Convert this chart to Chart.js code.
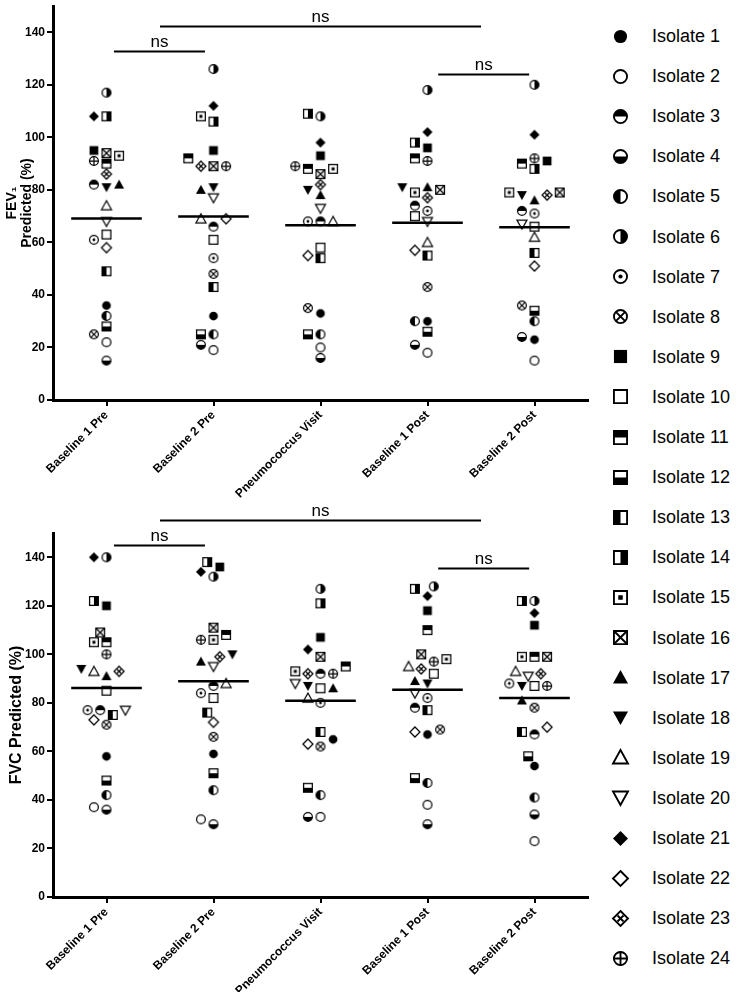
<!DOCTYPE html>
<html>
<head>
<meta charset="utf-8">
<title>FEV1 and FVC by isolate</title>
<script src="https://cdn.jsdelivr.net/npm/chart.js@4.4.1/dist/chart.umd.min.js"></script>
<style>
    html, body { margin: 0; padding: 0; background: #fff; }
    #page { position: relative; width: 742px; height: 992px; overflow: hidden; }
    #page > canvas { position: absolute; left: 0; }
    #fev1Chart { top: 0; }
    #fvcChart { top: 492px; }
    #legend canvas { position: absolute; }
    #legend .lbl { position: absolute; left: 652px; font: 18px Arial, "Liberation Sans", sans-serif; line-height: 22px; color: #000; white-space: nowrap; }
</style>
</head>
<body>
<div id="page">
    <canvas id="fev1Chart" width="600" height="500"></canvas>
    <canvas id="fvcChart" width="600" height="500"></canvas>
    <div id="legend"></div>
</div>
<script>
const categories = ['Baseline 1 Pre', 'Baseline 2 Pre', 'Pneumococcus Visit', 'Baseline 1 Post', 'Baseline 2 Post'];
const isolates = ['Isolate 1', 'Isolate 2', 'Isolate 3', 'Isolate 4', 'Isolate 5', 'Isolate 6', 'Isolate 7', 'Isolate 8',
    'Isolate 9', 'Isolate 10', 'Isolate 11', 'Isolate 12', 'Isolate 13', 'Isolate 14', 'Isolate 15', 'Isolate 16',
    'Isolate 17', 'Isolate 18', 'Isolate 19', 'Isolate 20', 'Isolate 21', 'Isolate 22', 'Isolate 23', 'Isolate 24'];
const yTicks = [0, 20, 40, 60, 80, 100, 120, 140];

// FEV1 % predicted, one value per isolate (Isolate 1 .. 24)
const fev1Baseline1Pre  = [36, 22, 82, 15, 32, 117, 61, 25, 95, 63, 90, 28, 49, 108, 93, 94, 82, 81, 74, 68, 108, 58, 86, 91];
const fev1Baseline2Pre  = [32, 19, 66, 21, 25, 126, 54, 48, 95, 61, 92, 25, 43, 106, 108, 89, 80, 81, 69, 77, 112, 69, 89, 89];
const fev1Pneumococcus  = [33, 20, 68, 16, 25, 108, 68, 35, 93, 58, 88, 25, 54, 109, 88, 86, 78, 80, 68, 73, 98, 55, 82, 89];
const fev1Baseline1Post = [30, 18, 74, 21, 30, 118, 72, 43, 96, 70, 92, 26, 55, 98, 79, 80, 81, 81, 60, 68, 102, 57, 77, 91];
const fev1Baseline2Post = [23, 15, 72, 24, 30, 120, 71, 36, 91, 66, 90, 34, 56, 88, 79, 79, 76, 78, 62, 67, 101, 51, 78, 92];

// FVC % predicted
const fvcBaseline1Pre  = [58, 37, 77, 36, 42, 140, 77, 71, 120, 85, 105, 48, 75, 122, 105, 109, 91, 94, 93, 77, 140, 73, 93, 100];
const fvcBaseline2Pre  = [59, 32, 87, 30, 44, 132, 84, 66, 136, 82, 108, 51, 76, 138, 106, 111, 97, 100, 88, 95, 134, 72, 99, 106];
const fvcPneumococcus  = [65, 33, 92, 33, 42, 127, 80, 62, 107, 86, 95, 45, 68, 121, 93, 99, 86, 87, 82, 88, 102, 63, 92, 92];
const fvcBaseline1Post = [67, 38, 78, 30, 47, 128, 82, 69, 118, 92, 110, 49, 77, 127, 98, 100, 89, 88, 95, 84, 124, 68, 94, 97];
const fvcBaseline2Post = [54, 23, 67, 34, 41, 122, 88, 78, 112, 87, 99, 58, 68, 122, 99, 99, 81, 87, 93, 91, 117, 70, 92, 87];

const fev1ByVisit = [fev1Baseline1Pre, fev1Baseline2Pre, fev1Pneumococcus, fev1Baseline1Post, fev1Baseline2Post];
const fvcByVisit = [fvcBaseline1Pre, fvcBaseline2Pre, fvcPneumococcus, fvcBaseline1Post, fvcBaseline2Post];

const FONT = 'Arial, "Liberation Sans", Helvetica, sans-serif';
Chart.defaults.font.family = FONT;
Chart.defaults.color = '#000';

// draws one of the 24 prism-style symbols on a small canvas
function makeMarker(kind, size) {
    const full = Math.ceil(size + 4);
    const c = document.createElement('canvas');
    c.width = c.height = full;
    const g = c.getContext('2d');
    const m = full / 2, r = size / 2, lw = Math.max(1.2, size / 8);
    g.lineWidth = lw;
    g.strokeStyle = '#000';
    g.fillStyle = '#000';

    const circle = () => { g.beginPath(); g.arc(m, m, r - lw / 2, 0, Math.PI * 2); };
    const square = () => { g.beginPath(); g.rect(m - r + lw / 2, m - r + lw / 2, size - lw, size - lw); };
    const diamond = () => {
        g.beginPath(); g.moveTo(m, m - r); g.lineTo(m + r, m); g.lineTo(m, m + r); g.lineTo(m - r, m); g.closePath();
    };
    const triangle = (up) => {
        const s = up ? 1 : -1;
        g.beginPath();
        g.moveTo(m, m - s * r);
        g.lineTo(m + r, m + s * r * 0.8);
        g.lineTo(m - r, m + s * r * 0.8);
        g.closePath();
    };
    const half = (shape, side) => {
        g.save(); shape(); g.clip();
        if (side === 'top') g.fillRect(0, 0, full, m);
        if (side === 'bottom') g.fillRect(0, m, full, full - m);
        if (side === 'left') g.fillRect(0, 0, m, full);
        if (side === 'right') g.fillRect(m, 0, full - m, full);
        g.restore();
        shape(); g.stroke();
    };
    const cross = (k) => {
        g.beginPath();
        g.moveTo(m - k, m - k); g.lineTo(m + k, m + k);
        g.moveTo(m + k, m - k); g.lineTo(m - k, m + k);
        g.stroke();
    };
    const plus = (k) => {
        g.beginPath();
        g.moveTo(m - k, m); g.lineTo(m + k, m);
        g.moveTo(m, m - k); g.lineTo(m, m + k);
        g.stroke();
    };

    switch (kind) {
        case 0: circle(); g.fill(); break;
        case 1: circle(); g.stroke(); break;
        case 2: half(circle, 'top'); break;
        case 3: half(circle, 'bottom'); break;
        case 4: half(circle, 'left'); break;
        case 5: half(circle, 'right'); break;
        case 6: circle(); g.stroke(); g.beginPath(); g.arc(m, m, r * 0.28, 0, Math.PI * 2); g.fill(); break;
        case 7: circle(); g.stroke(); cross(r * 0.62); break;
        case 8: square(); g.fill(); break;
        case 9: square(); g.stroke(); break;
        case 10: half(square, 'top'); break;
        case 11: half(square, 'bottom'); break;
        case 12: half(square, 'left'); break;
        case 13: half(square, 'right'); break;
        case 14: square(); g.stroke(); g.fillRect(m - r * 0.3, m - r * 0.3, r * 0.6, r * 0.6); break;
        case 15: square(); g.stroke(); cross(r * 0.8); break;
        case 16: triangle(true); g.fill(); break;
        case 17: triangle(false); g.fill(); break;
        case 18: triangle(true); g.stroke(); break;
        case 19: triangle(false); g.stroke(); break;
        case 20: diamond(); g.fill(); break;
        case 21: diamond(); g.stroke(); break;
        case 22: diamond(); g.stroke(); cross(r * 0.4); break;
        case 23: circle(); g.stroke(); plus(r); break;
    }
    return c;
}

// spreads points that would overlap sideways, like a column scatter plot
function swarmOffsets(values, pxPerUnit, catPx, size) {
    const order = values.map((v, i) => i).sort((a, b) => values[a] - values[b]);
    const placed = [];
    const offsets = new Array(values.length).fill(0);
    const step = size * 0.6;
    order.forEach(i => {
        const py = values[i] * pxPerUnit;
        for (let k = 0; k < 40; k++) {
            const dx = (k === 0 ? 0 : Math.ceil(k / 2) * (k % 2 ? -1 : 1)) * step;
            const hit = placed.some(p => Math.hypot(p.x - dx, p.y - py) < size);
            if (!hit) {
                placed.push({ x: dx, y: py });
                offsets[i] = dx / catPx;
                break;
            }
        }
    });
    return offsets;
}

const mean = vals => vals.reduce((a, b) => a + b, 0) / vals.length;

// the "ns" comparison bars
const sigBars = {
    id: 'sigBars',
    afterDraw(chart, args, opts) {
        const { ctx, scales: { x, y } } = chart;
        ctx.save();
        ctx.strokeStyle = '#000';
        ctx.lineWidth = 2;
        ctx.fillStyle = '#000';
        ctx.font = '17px ' + FONT;
        ctx.textAlign = 'center';
        ctx.textBaseline = 'bottom';
        (opts.bars || []).forEach(b => {
            const x1 = x.getPixelForValue(b.from), x2 = x.getPixelForValue(b.to);
            const py = Math.round(y.getPixelForValue(b.at)) + 0.5;
            ctx.beginPath();
            ctx.moveTo(x1, py);
            ctx.lineTo(x2, py);
            ctx.stroke();
            ctx.fillText(b.text, (x1 + x2) / 2, py - 1);
        });
        ctx.restore();
    }
};

const markers = isolates.map((_, k) => makeMarker(k, 10));

class PanelChart {
    constructor(canvasId, byVisit, cfg) {
        this.canvas = document.getElementById(canvasId);
        this.byVisit = byVisit;
        this.cfg = cfg;
    }

    buildDatasets() {
        const offsets = this.byVisit.map(vals => swarmOffsets(vals, this.cfg.pxPerUnit, 107, 10.5));
        const sets = isolates.map((name, k) => ({
            label: name,
            data: this.byVisit.map((vals, c) => ({ x: c + offsets[c][k], y: vals[k] })),
            pointStyle: markers[k],
            pointRadius: 5,
            showLine: false,
            order: 2
        }));
        const meanData = [];
        this.byVisit.forEach((vals, c) => {
            const m = mean(vals);
            meanData.push({ x: c - 0.33, y: m }, { x: c + 0.33, y: m }, { x: c + 0.5, y: null });
        });
        sets.push({
            type: 'line',
            label: 'Mean',
            data: meanData,
            borderColor: '#000',
            borderWidth: 2.5,
            pointRadius: 0,
            spanGaps: false,
            order: 1
        });
        return sets;
    }

    draw() {
        const cfg = this.cfg;
        const axisGrid = { drawOnChartArea: false, color: '#000', lineWidth: 2, tickLength: 6 };
        const axisBorder = { color: '#000', width: 3 };
        new Chart(this.canvas, {
            type: 'scatter',
            data: { datasets: this.buildDatasets() },
            options: {
                responsive: false,
                animation: false,
                events: [],
                layout: { padding: { top: cfg.padTop, right: 12, left: 0, bottom: 0 } },
                plugins: {
                    legend: { display: false },
                    tooltip: { enabled: false },
                    sigBars: { bars: cfg.bars }
                },
                scales: {
                    x: {
                        type: 'linear',
                        min: -0.5,
                        max: 4.5,
                        afterBuildTicks: s => { s.ticks = categories.map((_, i) => ({ value: i })); },
                        afterFit: s => { s.height = cfg.xAxisHeight; s.paddingLeft = 0; s.paddingRight = 0; },
                        ticks: {
                            callback: v => categories[v],
                            minRotation: 45,
                            maxRotation: 45,
                            autoSkip: false,
                            padding: 2,
                            font: { size: 12, weight: 'bold' }
                        },
                        grid: axisGrid,
                        border: axisBorder
                    },
                    y: {
                        min: 0,
                        max: 150,
                        afterBuildTicks: s => { s.ticks = yTicks.map(v => ({ value: v })); },
                        afterFit: s => { s.width = 53; s.paddingTop = 0; s.paddingBottom = 0; },
                        ticks: { padding: 2, font: { size: 12, weight: 'bold' } },
                        grid: axisGrid,
                        border: axisBorder,
                        title: {
                            display: true,
                            text: cfg.title,
                            font: cfg.titleFont,
                            padding: { top: cfg.titlePad, bottom: 0 }
                        }
                    }
                }
            },
            plugins: [sigBars]
        });
    }
}

new PanelChart('fev1Chart', fev1ByVisit, {
    pxPerUnit: 2.66,
    padTop: 0,
    xAxisHeight: 100,
    title: ['FEV₁', 'Predicted (%)'],
    titleFont: { size: 14, weight: 'bold', lineHeight: 1.07 },
    titlePad: 4.5,
    bars: [
        { from: 0.07, to: 0.92, at: 133, text: 'ns' },
        { from: 0.5, to: 3.5, at: 142.5, text: 'ns' },
        { from: 3.1, to: 3.95, at: 124, text: 'ns' }
    ]
}).draw();

new PanelChart('fvcChart', fvcByVisit, {
    pxPerUnit: 2.43,
    padTop: 41,
    xAxisHeight: 95,
    title: 'FVC Predicted (%)',
    titleFont: { size: 16, weight: 'bold' },
    titlePad: 6.5,
    bars: [
        { from: 0.07, to: 0.92, at: 145, text: 'ns' },
        { from: 0.5, to: 3.5, at: 155.5, text: 'ns' },
        { from: 3.1, to: 3.95, at: 135.5, text: 'ns' }
    ]
}).draw();

// legend down the right side
const legendEl = document.getElementById('legend');
isolates.forEach((name, k) => {
    const cy = 36 + k * 40.1;
    const icon = makeMarker(k, 15);
    icon.style.left = (620 - icon.width / 2) + 'px';
    icon.style.top = (cy - icon.height / 2) + 'px';
    legendEl.appendChild(icon);
    const lbl = document.createElement('div');
    lbl.className = 'lbl';
    lbl.textContent = name;
    lbl.style.top = (cy - 11) + 'px';
    legendEl.appendChild(lbl);
});
</script>
</body>
</html>
